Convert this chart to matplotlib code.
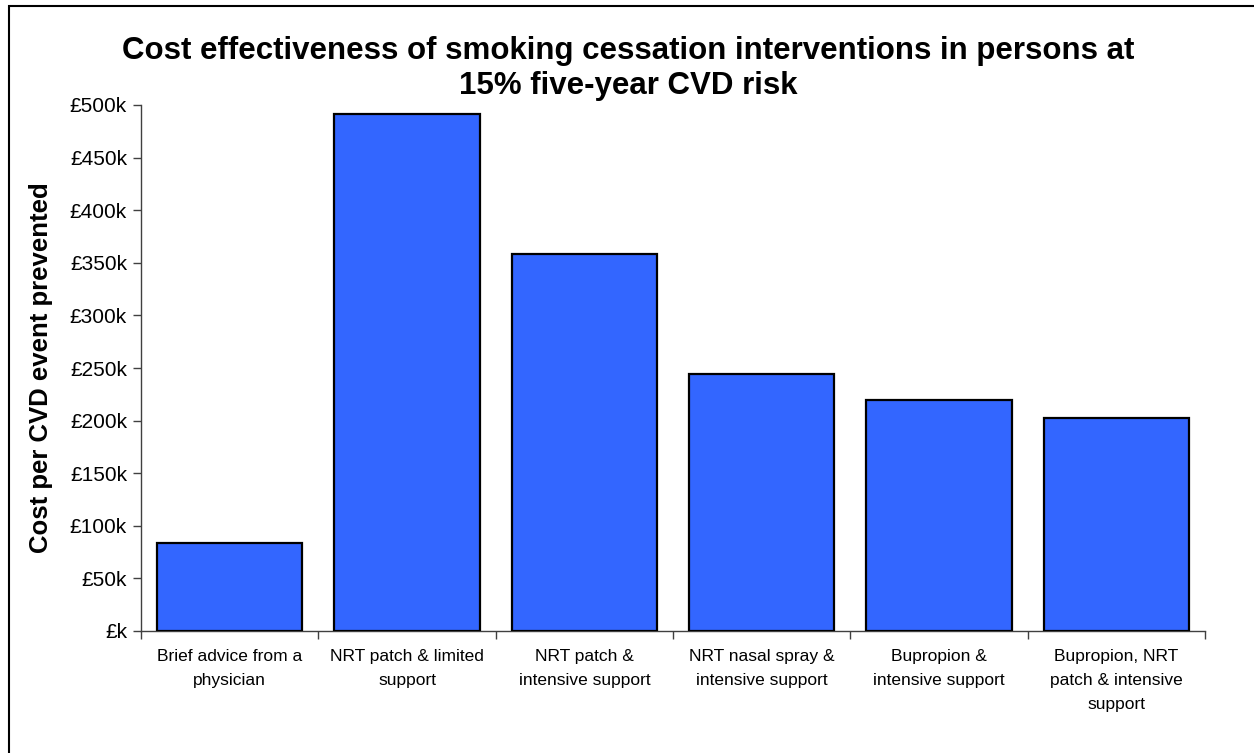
import matplotlib
matplotlib.use("Agg")
import matplotlib.pyplot as plt
from matplotlib.ticker import FuncFormatter, MultipleLocator
from matplotlib.patches import Rectangle
import numpy as np

categories = [
    "Brief advice from a\nphysician",
    "NRT patch & limited\nsupport",
    "NRT patch &\nintensive support",
    "NRT nasal spray &\nintensive support",
    "Bupropion &\nintensive support",
    "Bupropion, NRT\npatch & intensive\nsupport",
]
values_k = [84, 491, 358, 244, 220, 202]

title = "Cost effectiveness of smoking cessation interventions in persons at\n15% five-year CVD risk"
ylabel = "Cost per CVD event prevented"

plt.rcParams['font.family'] = ['Liberation Sans', 'DejaVu Sans']

W, H = 1254, 753
fig = plt.figure(figsize=(W / 100, H / 100), dpi=100)
fig.patch.set_facecolor('white')

# outer frame (top and left edges visible)
fig.patches.append(Rectangle((9 / W, -0.1), 1.2, 1 - 6 / H + 0.1, transform=fig.transFigure,
                             fill=False, edgecolor='black', linewidth=1.5))

ax = fig.add_axes([141 / W, 1 - 631 / H, (1205 - 141) / W, (631 - 105) / H])
x = np.arange(len(categories))
ax.bar(x, values_k, width=0.82, color='#3366FF', edgecolor='black', linewidth=1.6, zorder=3)

ax.set_xlim(-0.5, len(categories) - 0.5)
ax.set_ylim(0, 500)
ax.yaxis.set_major_locator(MultipleLocator(50))
ax.yaxis.set_major_formatter(FuncFormatter(lambda v, p: f"£{int(round(v))}k" if v else "£k"))

ax.set_xticks(np.arange(-0.5, len(categories), 1.0))
ax.set_xticklabels([])
ax.set_xticks(x, minor=True)
ax.set_xticklabels(categories, minor=True, fontsize=12.5, linespacing=1.75)
ax.tick_params(axis='x', which='minor', length=0, pad=13)
ax.tick_params(axis='x', which='major', length=6, width=1, color='#404040', direction='out')
ax.tick_params(axis='y', length=6, width=1, color='#404040', direction='out', labelsize=15, pad=4)

for s in ['top', 'right']:
    ax.spines[s].set_visible(False)
for s in ['left', 'bottom']:
    ax.spines[s].set_color('#404040')
    ax.spines[s].set_linewidth(1)

ax.set_ylabel(ylabel, fontsize=18.5, fontweight='bold')
ax.yaxis.set_label_coords(-88 / (1205 - 141), 0.5)

fig.text(628 / W, 1 - 68.5 / H, title, ha='center', va='center', fontsize=22.5,
         fontweight='bold', linespacing=1.22)

fig.savefig("out.png", dpi=100, facecolor='white')
